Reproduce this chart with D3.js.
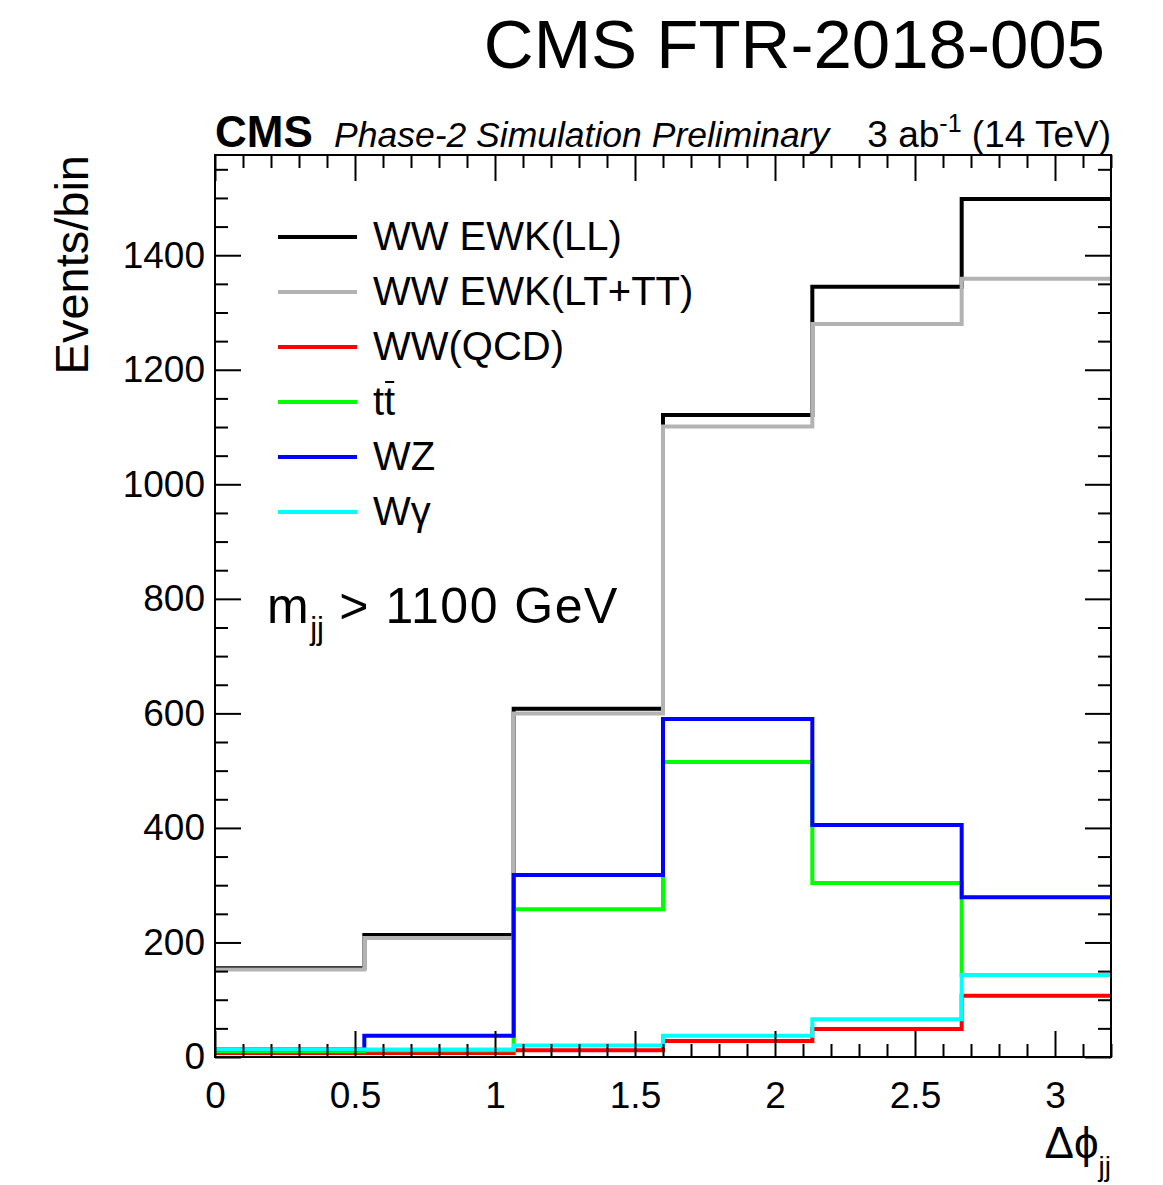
<!DOCTYPE html>
<html>
<head>
<meta charset="utf-8">
<script src="https://cdn.jsdelivr.net/npm/d3@7"></script>
<style>
  body { margin: 0; background: #fff; }
  svg { font-family: "Liberation Sans", Arial, Helvetica, sans-serif; }
  .axis path { display: none; }
  .axis line { stroke: #000; stroke-width: 2; }
  .axis text { font-size: 37px; fill: #000; }
</style>
</head>
<body>
<div id="graph"></div>
<script>
'use strict';

// bin edges in delta phi (6 bins from 0 to 3.2)
let binEdges = [0, 0.5333, 1.0667, 1.6, 2.1333, 2.6667, 3.2];

// events per bin
let wwLL   = [155, 213, 608, 1121, 1345, 1498];
let wwLTTT = [153, 208, 600, 1101, 1280, 1359];
let wwQCD  = [7, 7, 12, 28, 49, 107];
let ttbar  = [10, 12, 258, 515, 304, 143];
let wz     = [13, 37, 318, 590, 405, 279];
let wgamma = [13, 13, 20, 37, 66, 143];

let seriesNames = ['WW EWK(LL)', 'WW EWK(LT+TT)', 'WW(QCD)', 'tt', 'WZ', 'W\u03b3'];
let seriesColors = ['#000000', '#b3b3b3', '#ff0000', '#00ff00', '#0000ff', '#00ffff'];
let seriesValues = [wwLL, wwLTTT, wwQCD, ttbar, wz, wgamma];

let xMajor = [0, 0.5, 1, 1.5, 2, 2.5, 3];
let yMajor = [0, 200, 400, 600, 800, 1000, 1200, 1400];

let w = 1163, h = 1185;
let margin = {left: 215, right: 1111, top: 155, bottom: 1057};
let svg = d3.select('#graph').append('svg').attr('width', w).attr('height', h);

let x = d3.scaleLinear().domain([0, 3.2]).range([margin.left, margin.right]);
let y = d3.scaleLinear().domain([0, 1575]).range([margin.bottom, margin.top]);

let xMinor = d3.range(0, 3.2001, 0.1).map(v => +v.toFixed(1)).filter(v => xMajor.indexOf(v) < 0);
let yMinor = d3.range(0, 1575, 50).filter(v => yMajor.indexOf(v) < 0);

// histograms (drawn first, frame on top)
let line = d3.line()
    .x(d => x(d[0]))
    .y(d => y(d[1]))
    .curve(d3.curveStepAfter);

seriesValues.forEach(function(vals, i){
    let pts = vals.map((v, j) => [binEdges[j], v]);
    pts.push([binEdges[binEdges.length - 1], vals[vals.length - 1]]);
    svg.append('path')
        .datum(pts)
        .attr('d', line)
        .attr('fill', 'none')
        .attr('stroke', seriesColors[i])
        .attr('stroke-width', 4);
});

// axes: ticks point inwards, on all four sides
svg.append('g').attr('class', 'axis')
    .attr('transform', 'translate(0,' + margin.bottom + ')')
    .call(d3.axisBottom(x).tickValues(xMajor).tickSize(-26).tickPadding(25).tickFormat(d3.format('')));
svg.append('g').attr('class', 'axis')
    .attr('transform', 'translate(0,' + margin.bottom + ')')
    .call(d3.axisBottom(x).tickValues(xMinor).tickSize(-13).tickFormat(''));
svg.append('g').attr('class', 'axis')
    .attr('transform', 'translate(0,' + margin.top + ')')
    .call(d3.axisTop(x).tickValues(xMajor).tickSize(-26).tickFormat(''));
svg.append('g').attr('class', 'axis')
    .attr('transform', 'translate(0,' + margin.top + ')')
    .call(d3.axisTop(x).tickValues(xMinor).tickSize(-13).tickFormat(''));

svg.append('g').attr('class', 'axis')
    .attr('transform', 'translate(' + margin.left + ',0)')
    .call(d3.axisLeft(y).tickValues(yMajor).tickSize(-26).tickPadding(10).tickFormat(d3.format('d')));
svg.append('g').attr('class', 'axis')
    .attr('transform', 'translate(' + margin.left + ',0)')
    .call(d3.axisLeft(y).tickValues(yMinor).tickSize(-13).tickFormat(''));
svg.append('g').attr('class', 'axis')
    .attr('transform', 'translate(' + margin.right + ',0)')
    .call(d3.axisRight(y).tickValues(yMajor).tickSize(-26).tickFormat(''));
svg.append('g').attr('class', 'axis')
    .attr('transform', 'translate(' + margin.right + ',0)')
    .call(d3.axisRight(y).tickValues(yMinor).tickSize(-13).tickFormat(''));

// frame
svg.append('rect')
    .attr('x', margin.left).attr('y', margin.top)
    .attr('width', margin.right - margin.left).attr('height', margin.bottom - margin.top)
    .attr('fill', 'none').attr('stroke', '#000').attr('stroke-width', 2);

// legend
let legend = svg.append('g').attr('class', 'legend');
seriesNames.forEach(function(name, i){
    let ly = 237 + i * 55;
    legend.append('line')
        .attr('x1', 278).attr('x2', 357).attr('y1', ly).attr('y2', ly)
        .attr('stroke', seriesColors[i]).attr('stroke-width', 4);
    let t = legend.append('text')
        .attr('x', 373).attr('y', ly + 13)
        .attr('font-size', 40)
        .text(name);
    if (name === 'tt') {
        // bar over the second t only
        let full = t.node().getComputedTextLength();
        legend.append('line')
            .attr('x1', 373 + full / 2 + 1).attr('x2', 373 + full - 1)
            .attr('y1', ly - 20).attr('y2', ly - 20)
            .attr('stroke', '#000').attr('stroke-width', 2);
    }
});

// cut label
let cut = svg.append('text').attr('x', 267).attr('y', 623).attr('font-size', 50).attr('letter-spacing', 1.5);
cut.append('tspan').text('m');
cut.append('tspan').attr('font-size', 31).attr('dy', 16).attr('letter-spacing', 0).text('jj');
cut.append('tspan').attr('dy', -16).text(' > 1100 GeV');

// axis titles
svg.append('text')
    .attr('text-anchor', 'end')
    .attr('transform', 'translate(88,' + margin.top + ')rotate(-90)')
    .attr('font-size', 47)
    .text('Events/bin');

let xt = svg.append('text').attr('x', margin.right).attr('y', 1158).attr('text-anchor', 'end').attr('font-size', 44);
xt.append('tspan').text('\u0394\u03d5');
xt.append('tspan').attr('font-size', 28).attr('dy', 18).text('jj');

// header
svg.append('text').attr('x', margin.left).attr('y', 147)
    .attr('font-size', 44).attr('font-weight', 'bold').text('CMS');
svg.append('text').attr('x', 334).attr('y', 147)
    .attr('font-size', 35.5).attr('font-style', 'italic').text('Phase-2 Simulation Preliminary');
let lumi = svg.append('text').attr('x', margin.right).attr('y', 147)
    .attr('text-anchor', 'end').attr('font-size', 37);
lumi.append('tspan').text('3 ab');
lumi.append('tspan').attr('font-size', 25).attr('dy', -15).text('-1');
lumi.append('tspan').attr('dy', 15).text(' (14 TeV)');

svg.append('text').attr('x', 1105).attr('y', 68)
    .attr('text-anchor', 'end').attr('font-size', 69).text('CMS FTR-2018-005');
</script>
</body>
</html>
